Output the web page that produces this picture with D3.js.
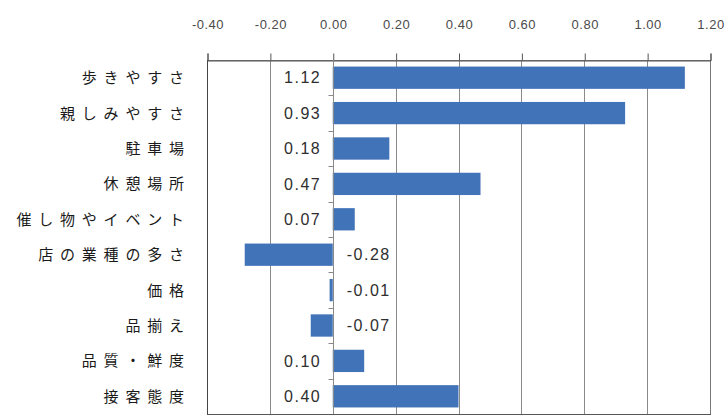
<!DOCTYPE html>
<html>
<head>
<meta charset="utf-8">
<script src="https://cdn.jsdelivr.net/npm/d3@7"></script>
<style>
  html, body { margin: 0; padding: 0; background: #fff; }
  svg { display: block; }
</style>
</head>
<body>
<svg id="chart" width="728" height="418"></svg>
<script>
const categories = ["歩きやすさ", "親しみやすさ", "駐車場", "休憩場所", "催し物やイベント", "店の業種の多さ", "価格", "品揃え", "品質・鮮度", "接客態度"];
const values = [1.12, 0.93, 0.18, 0.47, 0.07, -0.28, -0.01, -0.07, 0.10, 0.40];
const valueLabels = ["1.12", "0.93", "0.18", "0.47", "0.07", "-0.28", "-0.01", "-0.07", "0.10", "0.40"];
const tickValues = [-0.4, -0.2, 0, 0.2, 0.4, 0.6, 0.8, 1.0, 1.2];
const tickLabels = ["-0.40", "-0.20", "0.00", "0.20", "0.40", "0.60", "0.80", "1.00", "1.20"];

(function () {
const svg = d3.select("#chart");
const pLeft = 207, pRight = 710, pTop = 60, pBottom = 414;

const x = d3.scaleLinear().domain([-0.4, 1.2]).range([pLeft, pRight]);
const y = d3.scaleBand().domain(categories).range([pTop, pBottom])
  .paddingInner(0.37).paddingOuter(0.185);

svg.append("rect").attr("x", 0).attr("y", 0).attr("width", 728).attr("height", 418).attr("fill", "#fff");

// gridlines
svg.append("g").selectAll("line")
  .data(tickValues.slice(1, -1))
  .join("line")
  .attr("x1", d => Math.round(x(d)) + 0.5).attr("x2", d => Math.round(x(d)) + 0.5)
  .attr("y1", pTop).attr("y2", pBottom)
  .attr("stroke", "#8a8a8a").attr("stroke-width", 1);

// plot frame
svg.append("rect")
  .attr("x", pLeft + 0.5).attr("y", pTop + 0.5)
  .attr("width", pRight - pLeft).attr("height", pBottom - pTop)
  .attr("fill", "none").attr("stroke", "#777").attr("stroke-width", 1);
svg.append("line")
  .attr("x1", pLeft + 0.5).attr("x2", pLeft + 0.5).attr("y1", pTop).attr("y2", pBottom + 1)
  .attr("stroke", "#444");
svg.append("line")
  .attr("x1", pLeft).attr("x2", pRight + 1).attr("y1", pBottom + 0.5).attr("y2", pBottom + 0.5)
  .attr("stroke", "#555");

// top axis
const xAxis = d3.axisTop(x)
  .tickValues(tickValues)
  .tickFormat((d, i) => tickLabels[i])
  .tickSize(7)
  .tickPadding(25);
const gx = svg.append("g")
  .attr("transform", `translate(0.5,${pTop + 0.5})`)
  .call(xAxis);
gx.select(".domain").attr("stroke", "#555");
gx.selectAll(".tick line").attr("stroke", "#555");
gx.selectAll(".tick text")
  .attr("fill", "#4a4a4a")
  .attr("font-family", "'Liberation Sans', Arial, sans-serif")
  .attr("font-size", 13)
  .attr("letter-spacing", 0.5)
  .attr("dx", 0);

// bars
svg.append("g").selectAll("rect")
  .data(values)
  .join("rect")
  .attr("x", d => x(Math.min(0, d)))
  .attr("y", (d, i) => y(categories[i]))
  .attr("width", d => Math.abs(x(d) - x(0)))
  .attr("height", y.bandwidth())
  .attr("fill", "#4173b9");

// zero axis line and category separator ticks
const x0 = Math.round(x(0)) + 0.5;
svg.append("line")
  .attr("x1", x0).attr("x2", x0).attr("y1", pTop).attr("y2", pBottom)
  .attr("stroke", "#8a8a8a");
const step = y.step();
svg.append("g").selectAll("line")
  .data(categories.slice(1))
  .join("line")
  .attr("x1", x0 - 5).attr("x2", x0)
  .attr("y1", d => Math.round(y(d) - step * y.paddingInner() / 2) + 0.5)
  .attr("y2", d => Math.round(y(d) - step * y.paddingInner() / 2) + 0.5)
  .attr("stroke", "#888");

// value labels
const ls = 1.5;
svg.append("g").selectAll("text")
  .data(values)
  .join("text")
  .attr("x", d => d >= 0 ? x(0) - 13 + ls : x(0) + 36)
  .attr("y", (d, i) => y(categories[i]) + y.bandwidth() / 2)
  .attr("dy", "0.36em")
  .attr("text-anchor", d => d >= 0 ? "end" : "middle")
  .attr("font-family", "'Liberation Sans', Arial, sans-serif")
  .attr("font-size", 16)
  .attr("letter-spacing", ls)
  .attr("fill", "#2e2e2e")
  .text((d, i) => valueLabels[i]);

// category labels
const cls = 6.8;
svg.append("g").selectAll("text")
  .data(categories)
  .join("text")
  .attr("x", 184 + cls)
  .attr("y", d => y(d) + y.bandwidth() / 2)
  .attr("dy", "0.36em")
  .attr("text-anchor", "end")
  .attr("font-family", "'Noto Sans CJK JP', sans-serif")
  .attr("font-size", 15)
  .attr("letter-spacing", cls)
  .attr("fill", "#1a1a1a")
  .text(d => d);
})();
</script>
</body>
</html>
